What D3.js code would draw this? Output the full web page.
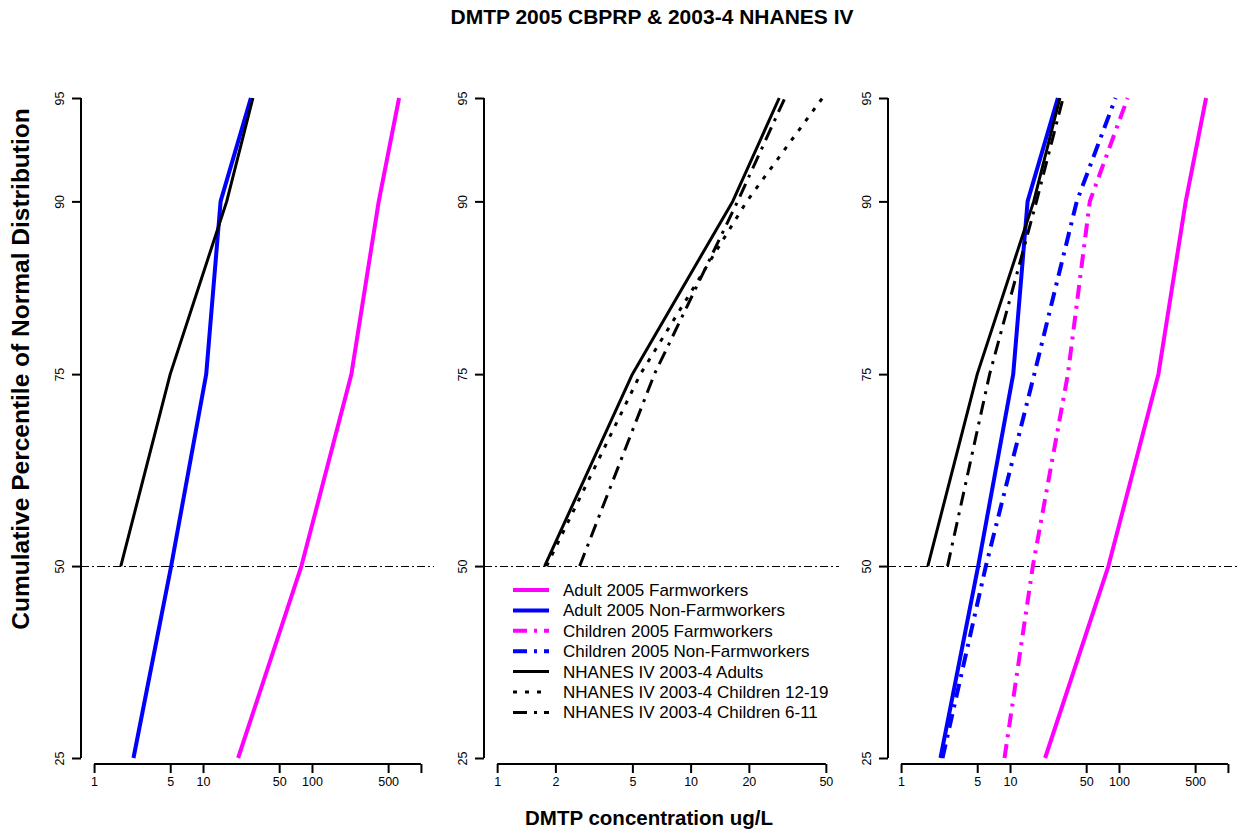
<!DOCTYPE html>
<html>
<head>
<meta charset="utf-8">
<script src="https://cdn.jsdelivr.net/npm/d3@7/dist/d3.min.js"></script>
<style>
  body { margin: 0; background: #fff; }
  text { font-family: "Liberation Sans", Arial, sans-serif; fill: #000; }
</style>
</head>
<body>
<div id="grafico"></div>
<script>
// percentiles (cumulative %) and DMTP concentrations (ug/L)
const percentiles = [25, 50, 75, 90, 95];
const percentilesNhanes = [50, 75, 90, 95];

const adultFarm = [21, 80, 230, 410, 630];
const adultNonFarm = [2.3, 5.1, 10.7, 14.5, 27.5];
const childFarm = [8.9, 16.2, 34, 54, 120];
const childNonFarm = [2.4, 6.0, 16.7, 41, 93];
const nhanesAdults = [1.76, 5.0, 16.5, 28.7];
const nhanesTeens = [1.8, 5.5, 19.5, 48];
const nhanesKids = [2.67, 6.5, 17.5, 30.7];

const ticksWide = [1, 5, 10, 50, 100, 500, 1000];
const ticksWideLabels = ["1", "5", "10", "50", "100", "500", ""];
const ticksNarrow = [1, 2, 5, 10, 20, 50];
const ticksNarrowLabels = ["1", "2", "5", "10", "20", "50"];
const yTicks = [25, 50, 75, 90, 95];

const legendNames = [
    "Adult 2005 Farmworkers",
    "Adult 2005 Non-Farmworkers",
    "Children 2005 Farmworkers",
    "Children 2005 Non-Farmworkers",
    "NHANES IV 2003-4 Adults",
    "NHANES IV 2003-4 Children 12-19",
    "NHANES IV 2003-4 Children 6-11"
];

// inverse normal CDF (Acklam)
function probit(p) {
    const a = [-3.969683028665376e+01, 2.209460984245205e+02, -2.759285104469687e+02,
               1.383577518672690e+02, -3.066479806614716e+01, 2.506628277459239e+00];
    const b = [-5.447609879822406e+01, 1.615858368580409e+02, -1.556989798598866e+02,
               6.680131188771972e+01, -1.328068155288572e+01];
    const c = [-7.784894002430293e-03, -3.223964580411365e-01, -2.400758277161838e+00,
               -2.549732539343734e+00, 4.374664141464968e+00, 2.938163982698783e+00];
    const d = [7.784695709041462e-03, 3.224671290700398e-01, 2.445134137142996e+00,
               3.754408661907416e+00];
    const plow = 0.02425, phigh = 1 - plow;
    let q, r;
    if (p < plow) {
        q = Math.sqrt(-2 * Math.log(p));
        return (((((c[0]*q+c[1])*q+c[2])*q+c[3])*q+c[4])*q+c[5]) / ((((d[0]*q+d[1])*q+d[2])*q+d[3])*q+1);
    } else if (p <= phigh) {
        q = p - 0.5; r = q * q;
        return (((((a[0]*r+a[1])*r+a[2])*r+a[3])*r+a[4])*r+a[5])*q / (((((b[0]*r+b[1])*r+b[2])*r+b[3])*r+b[4])*r+1);
    }
    q = Math.sqrt(-2 * Math.log(1 - p));
    return -(((((c[0]*q+c[1])*q+c[2])*q+c[3])*q+c[4])*q+c[5]) / ((((d[0]*q+d[1])*q+d[2])*q+d[3])*q+1);
}

const DOTDASH = "14,7,3,7";
const DOTTED = "4,8";

function serie(name, vals, pcts, color, dash, width) {
    return {name: name, color: color, dash: dash, width: width,
            pts: vals.map((v, i) => [v, pcts[i]])};
}

const sAdultFarm = serie(legendNames[0], adultFarm, percentiles, "#ff00ff", null, 4);
const sAdultNon = serie(legendNames[1], adultNonFarm, percentiles, "#0000ff", null, 4);
const sChildFarm = serie(legendNames[2], childFarm, percentiles, "#ff00ff", DOTDASH, 4);
const sChildNon = serie(legendNames[3], childNonFarm, percentiles, "#0000ff", DOTDASH, 4);
const sNhAdults = serie(legendNames[4], nhanesAdults, percentilesNhanes, "#000000", null, 3);
const sNhTeens = serie(legendNames[5], nhanesTeens, percentilesNhanes, "#000000", DOTTED, 3);
const sNhKids = serie(legendNames[6], nhanesKids, percentilesNhanes, "#000000", DOTDASH, 3);

const paneles = [
    {left: 81, right: 434, lim: [1, 1000], ticks: ticksWide, labels: ticksWideLabels,
     series: [sAdultFarm, sAdultNon, sNhAdults]},
    {left: 484, right: 839, lim: [1, 50], ticks: ticksNarrow, labels: ticksNarrowLabels,
     series: [sNhAdults, sNhTeens, sNhKids]},
    {left: 888, right: 1241, lim: [1, 1000], ticks: ticksWide, labels: ticksWideLabels,
     series: [sAdultFarm, sAdultNon, sChildFarm, sChildNon, sNhAdults, sNhKids]}
];

const W = 1238, H = 833;
const svg = d3.select("#grafico").append("svg")
    .attr("width", W).attr("height", H);

const y = d3.scaleLinear()
    .domain([probit(0.25), probit(0.95)])
    .range([758, 98]);
const axisY = 764;

paneles.forEach(function (p) {
    // extend log limits by 4% like R
    const l0 = Math.log10(p.lim[0]), l1 = Math.log10(p.lim[1]);
    const ext = (l1 - l0) * 0.04;
    const x = d3.scaleLog()
        .domain([Math.pow(10, l0 - ext), Math.pow(10, l1 + ext)])
        .range([p.left, p.right]);

    // 50th percentile reference line
    const y50 = Math.round(y(0)) + 0.5;
    svg.append("line")
        .attr("x1", p.left).attr("x2", Math.min(p.right, W))
        .attr("y1", y50).attr("y2", y50)
        .attr("stroke", "#000").attr("stroke-width", 1)
        .attr("stroke-dasharray", "8,3,2,3");

    const line = d3.line()
        .x(d => x(d[0]))
        .y(d => y(probit(d[1] / 100)));

    p.series.forEach(function (s) {
        svg.append("path")
            .datum(s.pts)
            .attr("d", line)
            .attr("fill", "none")
            .attr("stroke", s.color)
            .attr("stroke-width", s.width)
            .attr("stroke-dasharray", s.dash)
            .attr("stroke-linejoin", "round");
    });

    // x axis
    const gx = svg.append("g")
        .attr("transform", "translate(0," + axisY + ")")
        .call(d3.axisBottom(x)
            .tickValues(p.ticks)
            .tickSize(9)
            .tickFormat((d, i) => p.labels[i]));
    gx.select(".domain").remove();
    gx.selectAll(".tick line").attr("stroke-width", 2);
    gx.selectAll(".tick text").attr("font-size", 12.5).attr("y", 13).attr("dy", "0.71em")
        .style("font-family", "'Liberation Sans', Arial, sans-serif");
    gx.append("line")
        .attr("x1", x(p.ticks[0])).attr("x2", x(p.ticks[p.ticks.length - 1]))
        .attr("stroke", "#000").attr("stroke-width", 2);

    // y axis
    const gy = svg.append("g")
        .attr("transform", "translate(" + p.left + ",0)")
        .call(d3.axisLeft(y)
            .tickValues(yTicks.map(v => probit(v / 100)))
            .tickSize(9)
            .tickFormat((d, i) => String(yTicks[i])));
    gy.select(".domain").remove();
    gy.selectAll(".tick line").attr("stroke-width", 2);
    gy.selectAll(".tick text")
        .attr("font-size", 12.5)
        .attr("text-anchor", "middle")
        .attr("x", 0).attr("y", -17).attr("dy", 0)
        .attr("transform", "rotate(-90)")
        .style("font-family", "'Liberation Sans', Arial, sans-serif");
    gy.append("line")
        .attr("y1", y(probit(0.25))).attr("y2", y(probit(0.95)))
        .attr("stroke", "#000").attr("stroke-width", 2);
});

// legend in the middle panel
const leyenda = svg.append("g").attr("transform", "translate(513,590)");
const legendSeries = [sAdultFarm, sAdultNon, sChildFarm, sChildNon, sNhAdults, sNhTeens, sNhKids];
legendSeries.forEach(function (s, i) {
    const fila = leyenda.append("g").attr("transform", "translate(0," + (i * 20.4) + ")");
    fila.append("line")
        .attr("x1", 0).attr("x2", 36)
        .attr("stroke", s.color)
        .attr("stroke-width", s.width)
        .attr("stroke-dasharray", s.dash);
    fila.append("text")
        .attr("x", 50).attr("y", 0)
        .attr("dy", "0.35em")
        .attr("font-size", 17)
        .text(s.name);
});

// titles
svg.append("text")
    .attr("x", 652).attr("y", 24)
    .attr("text-anchor", "middle")
    .attr("font-size", 21).attr("font-weight", "bold")
    .text("DMTP 2005 CBPRP & 2003-4 NHANES IV");

svg.append("text")
    .attr("x", 649).attr("y", 825)
    .attr("text-anchor", "middle")
    .attr("font-size", 20.5).attr("font-weight", "bold")
    .text("DMTP concentration ug/L");

svg.append("text")
    .attr("transform", "translate(29,369) rotate(-90)")
    .attr("text-anchor", "middle")
    .attr("font-size", 24.5).attr("font-weight", "bold")
    .text("Cumulative Percentile of Normal Distribution");
</script>
</body>
</html>
